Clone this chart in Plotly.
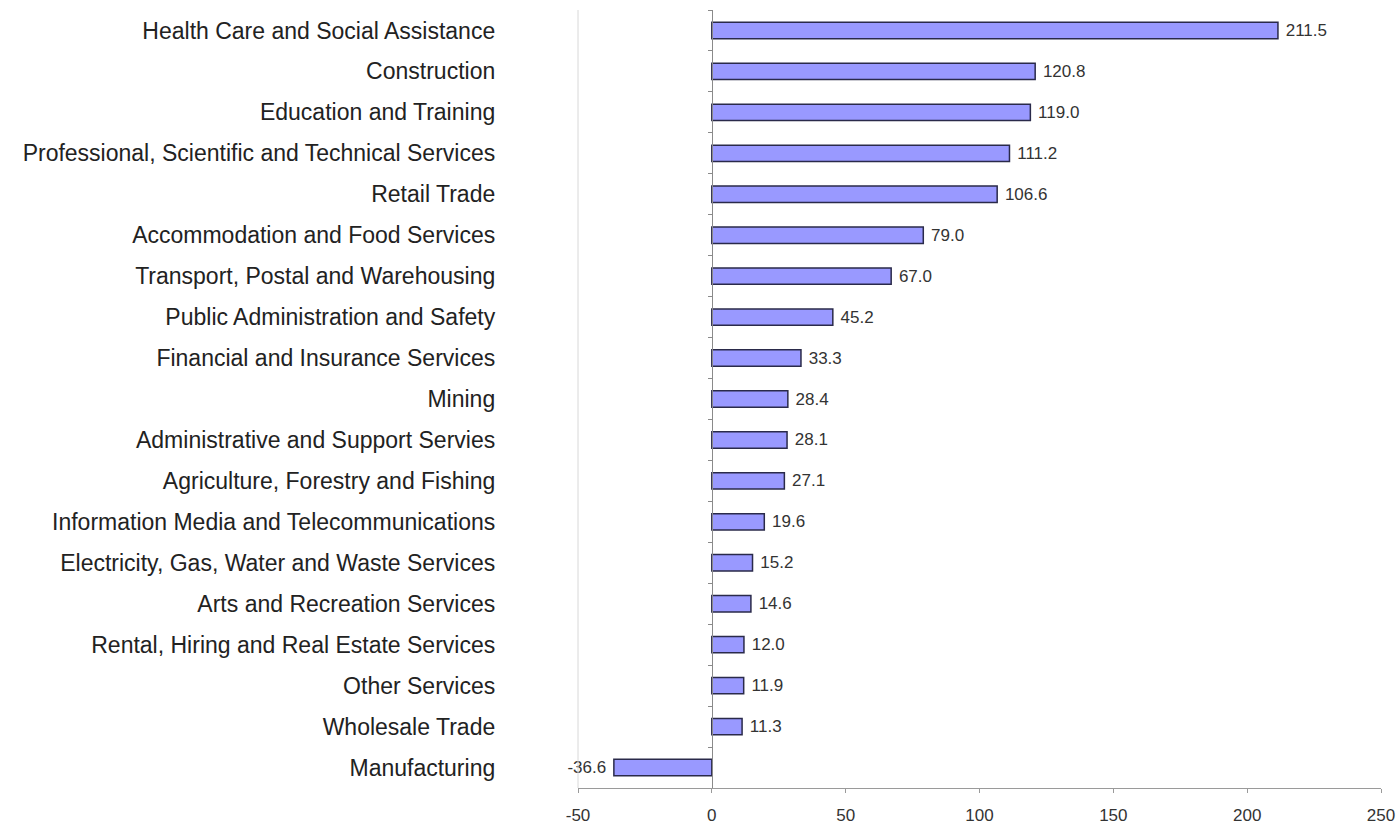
import plotly.graph_objects as go

categories = [
    "Health Care and Social Assistance",
    "Construction",
    "Education and Training",
    "Professional, Scientific and Technical Services",
    "Retail Trade",
    "Accommodation and Food Services",
    "Transport, Postal and Warehousing",
    "Public Administration and Safety",
    "Financial and Insurance Services",
    "Mining",
    "Administrative and Support Servies",
    "Agriculture, Forestry and Fishing",
    "Information Media and Telecommunications",
    "Electricity, Gas, Water and Waste Services",
    "Arts and Recreation Services",
    "Rental, Hiring and Real Estate Services",
    "Other Services",
    "Wholesale Trade",
    "Manufacturing",
]
values = [211.5, 120.8, 119.0, 111.2, 106.6, 79.0, 67.0, 45.2, 33.3, 28.4,
          28.1, 27.1, 19.6, 15.2, 14.6, 12.0, 11.9, 11.3, -36.6]
x_ticks = [-50, 0, 50, 100, 150, 200, 250]
x_min, x_max = -50, 250

labels = [(f" {v:.1f}" if v >= 0 else f"{v:.1f} ") for v in values]

fig = go.Figure()
fig.add_trace(go.Bar(
    x=values, y=categories, orientation="h", width=0.4,
    marker=dict(color="#9999FF", line=dict(color="#2a2a4a", width=1.5)),
    text=labels, textposition="outside", constraintext="none",
    textfont=dict(size=17, color="#333333"), cliponaxis=False,
))
fig.update_layout(
    width=1398, height=824,
    margin=dict(l=578, r=17, t=10, b=36),
    paper_bgcolor="white", plot_bgcolor="white",
    font=dict(family="Liberation Sans, Arial, sans-serif", color="#222222"),
    showlegend=False, bargap=0.6,
    shapes=[dict(type="line", xref="paper", yref="paper", x0=0, x1=0, y0=0, y1=1,
                 line=dict(color="#d8d8d8", width=1))],
)
fig.update_xaxes(
    range=[x_min, x_max], tickvals=x_ticks, ticktext=[str(t) for t in x_ticks],
    showgrid=False, zeroline=False, automargin=False,
    showline=True, linecolor="#9a9a9a", linewidth=1,
    ticks="outside", ticklen=4, tickcolor="#9a9a9a", ticklabelstandoff=8,
    tickfont=dict(size=17, color="#333333"),
)
fig.update_yaxes(
    autorange="reversed", showgrid=False, automargin=False,
    anchor="free", position=(0 - x_min) / (x_max - x_min),
    showline=True, linecolor="#8a8a8a", linewidth=1,
    ticks="outside", tickson="boundaries", ticklen=4, tickcolor="#8a8a8a",
    ticklabelstandoff=212,
    tickfont=dict(size=23, color="#222222"),
)
fig.write_html(
    "out.html",
    config={"displayModeBar": False},
    post_script="document.body.style.margin='0';document.documentElement.style.overflow='hidden';",
)
